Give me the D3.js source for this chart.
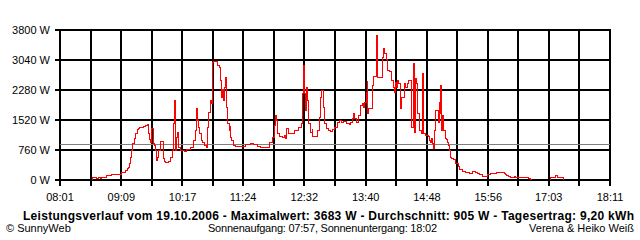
<!DOCTYPE html>
<html>
<head>
<meta charset="utf-8">
<script src="https://cdn.jsdelivr.net/npm/d3@7"></script>
<style>
  body { margin: 0; background: #fff; }
  text { font-family: "Liberation Sans", Arial, sans-serif; }
</style>
</head>
<body>
<svg width="640" height="240"></svg>
<script>
// Messwerte (Uhrzeit / Leistung in W), null = keine Daten
const times = [
  "08:36","08:37","08:39","08:41","08:43","08:45","08:47","08:50","08:52","08:58",
  "09:07","09:09","09:13","09:15","09:16","09:17","09:19","09:20","09:21","09:23",
  "09:24","09:26","09:27","09:29","09:33","09:35","09:37","09:39","09:40","09:41",
  "09:42","09:44","09:45","09:46","09:47","09:49","09:50","09:52","09:55","09:56",
  "09:58","10:01","10:03","10:05","10:06","10:07","10:08","10:09","10:10","10:11",
  "10:12","10:14","10:18","10:21","10:25","10:29","10:31","10:32","10:33","10:34",
  "10:35","10:37","10:39","10:41","10:43","10:44","10:45","10:47","10:48","10:50",
  "10:51","10:55","10:57","10:58","11:00","11:01","11:02","11:03","11:04","11:05",
  "11:06","11:08","11:09","11:10","11:11","11:13","11:15","11:26","11:32","11:35",
  "11:39","11:43","11:46","11:53","11:56","11:58","11:59","12:01","12:02","12:04",
  "12:07","12:09","12:11","12:12","12:14","12:21","12:25","12:28","12:29","12:30",
  "12:32","12:33","12:34","12:35","12:36","12:38","12:40","12:41","12:46","12:48",
  "12:49","12:50","12:53","12:54","12:56","12:58","13:00","13:03","13:05","13:08",
  "13:10","13:13","13:15","13:18","13:21","13:23","13:25","13:26","13:27","13:29",
  "13:31","13:32","13:34","13:36","13:37","13:38","13:40","13:41","13:42","13:43",
  "13:47","13:48","13:52","13:53","13:58","13:59","14:00","14:03","14:04","14:06",
  "14:08","14:10","14:11","14:12","14:14","14:15","14:16","14:18","14:19","14:23",
  "14:24","14:26","14:27","14:30","14:33","14:34","14:35","14:36","14:37","14:39",
  "14:41","14:43","14:44","14:46","14:49","14:50","14:51","14:52","14:54","14:55",
  "14:56","14:57","15:00","15:01","15:02","15:03","15:04","15:05","15:06","15:08",
  "15:09","15:10","15:11","15:12","15:13","15:15","15:17","15:19","15:22","15:24",
  "15:27","15:30","15:33","15:35","15:38","15:41","15:43","15:46","15:49","15:55",
  "15:58","16:02","16:05","16:09","16:13","16:15","16:16","16:18","16:20","16:22",
  "16:24","16:26","16:28","16:31","16:40","16:42","16:43","16:44",
  "17:03","17:04","17:08","17:10","17:12","17:17","17:19"
];
const watts = [
  25, 68, 84, 59, 68, 55, 76, 84, 127, 144,
  152, 211, 253, 296, 338, 422, 590, 760, 930, 1055,
  1182, 1284, 1317, 1350, 1368, 1393, 1419, 1182, 1030, 970,
  1310, 930, 887, 760, 507, 590, 760, 996, 550, 481,
  465, 470, 590, 760, 1436, 2027, 1900, 760, 1100, 1225,
  845, 760, 735, 777, 845, 1013, 1267, 1816, 1520, 1350,
  1182, 1013, 970, 887, 845, 1350, 1730, 2027, 1940, 3000,
  3020, 2913, 2870, 2533, 2110, 2300, 2027, 2363, 2617, 1857,
  1436, 1267, 1393, 1100, 1013, 887, 870, 903, 945, 912,
  861, 828, 845, 970, 1100, 1393, 1647, 1520, 1182, 1115,
  1100, 1140, 1055, 1310, 1182, 1267, 1350, 1436, 2195, 2913,
  2195, 1773, 2363, 2027, 1436, 1225, 1310, 1115, 1267, 1605,
  2110, 2280, 1857, 1436, 1310, 1267, 1250, 1284, 1350, 1477,
  1520, 1477, 1503, 1436, 1410, 1477, 1562, 1689, 1562, 1477,
  1520, 1647, 1900, 1943, 1857, 1985, 2237, 2533, 1689, 1816,
  2407, 2640, 3683, 2600, 3123, 3335, 3208, 3056, 2787, 2761,
  2533, 2348, 2237, 2490, 2363, 2533, 2450, 1816, 2110, 2450,
  2363, 2450, 2533, 1350, 2955, 1225, 2575, 2450, 1689, 1267,
  1182, 2702, 1182, 1140, 1115, 1013, 970, 1055, 930, 800,
  1267, 1773, 1477, 1985, 1689, 2407, 1267, 1647, 1267, 1055,
  1030, 970, 887, 760, 590, 550, 523, 439, 355, 270,
  236, 194, 203, 169, 236, 194, 186, 144, 101, 144,
  169, 186, 194, 211, 169, 144, 127, 101, 84, 68,
  101, 68, 84, 68, 42, 17, 17, null,
  17, 68, 84, 127, 84, 68, 17
];
const yTicks = [0, 760, 1520, 2280, 3040, 3800];
const xTickLabels = ["08:01", "09:09", "10:17", "11:24", "12:32", "13:40", "14:48", "15:56", "17:03", "18:11"];
const average = 905;

const svg = d3.select("svg");
const toMin = s => { const p = s.split(":"); return +p[0] * 60 + +p[1]; };
const data = times.map((t, i) => ({ t: toMin(t), w: watts[i] }));

const t0 = toMin(xTickLabels[0]), t1 = toMin(xTickLabels[xTickLabels.length - 1]);
const x = d3.scaleLinear().domain([t0, t1]).range([60, 610]);
const y = d3.scaleLinear().domain([0, 3800]).range([180, 30]);
const px = v => Math.round(v) + 0.5;

svg.append("rect").attr("width", 640).attr("height", 240).attr("fill", "#fff");

// Gitter senkrecht (18 Felder) + Striche unten, 2px breit
const grid = svg.append("g")
  .attr("stroke", "#000")
  .attr("stroke-width", 2)
  .attr("shape-rendering", "crispEdges");
d3.range(19).map(i => t0 + i * (t1 - t0) / 18).forEach(t => {
  grid.append("line")
    .attr("x1", Math.round(x(t))).attr("x2", Math.round(x(t)))
    .attr("y1", 29).attr("y2", 186);
});
// Gitter waagerecht + Striche links
yTicks.forEach(v => {
  grid.append("line")
    .attr("x1", 55).attr("x2", 611)
    .attr("y1", Math.round(y(v))).attr("y2", Math.round(y(v)));
});

// Durchschnitt
svg.append("line")
  .attr("x1", 60).attr("x2", 610)
  .attr("y1", px(y(average))).attr("y2", px(y(average)))
  .attr("stroke", "#808080")
  .attr("shape-rendering", "crispEdges");

// Leistungskurve
const line = d3.line()
  .defined(d => d.w != null)
  .x(d => px(x(d.t)))
  .y(d => px(y(d.w)))
  .curve(d3.curveStepAfter);

svg.append("path")
  .datum(data)
  .attr("d", line)
  .attr("fill", "none")
  .attr("stroke", "#ff0000")
  .attr("stroke-width", 1)
  .attr("shape-rendering", "crispEdges");

// Achsenbeschriftung
svg.selectAll(".ylab")
  .data(yTicks)
  .enter()
  .append("text")
  .attr("x", 50)
  .attr("y", d => y(d) + 4)
  .attr("text-anchor", "end")
  .attr("font-size", 11)
  .text(d => d + " W");

svg.selectAll(".xlab")
  .data(xTickLabels)
  .enter()
  .append("text")
  .attr("x", d => x(toMin(d)))
  .attr("y", 201)
  .attr("text-anchor", "middle")
  .attr("font-size", 11)
  .text(d => d);

// Fußzeilen
svg.append("text")
  .attr("x", 23).attr("y", 220)
  .attr("font-size", 12).attr("font-weight", "bold")
  .attr("textLength", 611).attr("lengthAdjust", "spacing")
  .text("Leistungsverlauf vom 19.10.2006 - Maximalwert: 3683 W - Durchschnitt: 905 W - Tagesertrag: 9,20 kWh");

svg.append("text")
  .attr("x", 6).attr("y", 232)
  .attr("font-size", 11)
  .text("© SunnyWeb");

svg.append("text")
  .attr("x", 208).attr("y", 232)
  .attr("font-size", 11)
  .attr("textLength", 229).attr("lengthAdjust", "spacing")
  .text("Sonnenaufgang: 07:57, Sonnenuntergang: 18:02");

svg.append("text")
  .attr("x", 634).attr("y", 232)
  .attr("text-anchor", "end")
  .attr("font-size", 11)
  .text("Verena & Heiko Weiß");
</script>
</body>
</html>
